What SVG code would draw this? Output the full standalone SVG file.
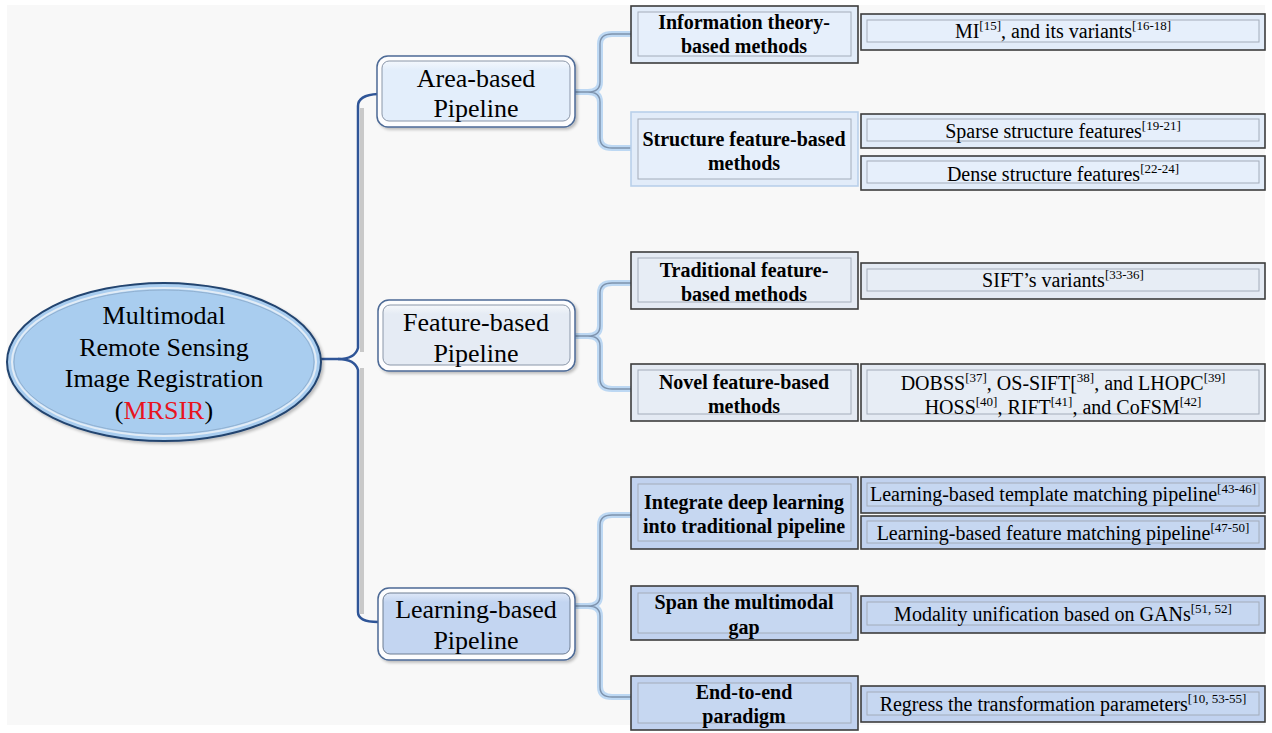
<svg xmlns="http://www.w3.org/2000/svg" width="1272" height="733" viewBox="0 0 1272 733">
<defs>
<linearGradient id="gArea" x1="0" y1="0" x2="0" y2="1"><stop offset="0" stop-color="#f4f8fd"/><stop offset="0.15" stop-color="#e3eefb"/><stop offset="1" stop-color="#e3eefb"/></linearGradient>
<linearGradient id="gFeat" x1="0" y1="0" x2="0" y2="1"><stop offset="0" stop-color="#f6f8fb"/><stop offset="0.15" stop-color="#e5ebf4"/><stop offset="1" stop-color="#e5ebf4"/></linearGradient>
<linearGradient id="gLearn" x1="0" y1="0" x2="0" y2="1"><stop offset="0" stop-color="#dfe8f8"/><stop offset="0.15" stop-color="#c3d5f1"/><stop offset="1" stop-color="#c3d5f1"/></linearGradient>
<filter id="sh" x="-10%" y="-10%" width="130%" height="130%"><feGaussianBlur in="SourceAlpha" stdDeviation="1.5"/><feOffset dx="2" dy="2"/><feComponentTransfer><feFuncA type="linear" slope="0.25"/></feComponentTransfer><feMerge><feMergeNode/><feMergeNode in="SourceGraphic"/></feMerge></filter>
</defs>
<style>
text{font-family:"Liberation Serif","Times New Roman",serif;fill:#000;text-anchor:middle}
.t0{font-size:26px}
.t1{font-size:26px}
.t2{font-size:20px;font-weight:bold}
.t3{font-size:20px}
.sup{font-size:13px}
.red{fill:#e8141e}
.o2{stroke:#3c3c3c;stroke-width:1.6}
.o2l{stroke:#b9d0ea;stroke-width:1.6}
.in{stroke:#a3acba;stroke-width:1}
.a{fill:#e2ecf9}.ai{fill:#e6effb}
.f{fill:#e4eaf3}.fi{fill:#e7edf5}
.l{fill:#c1d2ef}.li{fill:#c6d7f1}
.glow{fill:none;stroke:#a9cdf1;stroke-width:6;stroke-opacity:0.75;stroke-linejoin:round}
.gline{fill:none;stroke:#7e93ad;stroke-width:1.4}
.trunk{fill:none;stroke:#2f5597;stroke-width:2.5}
.trunksh{fill:none;stroke:#c9c9c9;stroke-width:4}
.p1{stroke:#4d6a96;stroke-width:1.5;fill:#fdfdfe}
</style>
<rect x="0" y="0" width="1272" height="733" fill="#ffffff"/>
<rect x="7" y="5" width="1258" height="720" fill="#f8f8f8"/>

<g id="connectors">
<path class="trunksh" d="M362,352 V108 M362,368 V614"/>
<path class="trunk" d="M320,359 H338 Q355,359 358,348 V106 Q358,95 378,94"/>
<path class="trunk" d="M338,359 Q355,359 358,370 V612 Q358,622 378,622"/>
<path class="glow" d="M575,92 H588 Q600,92 600,82 V44 Q600,34 612,34 H631 M588,92 Q600,92 600,102 V138 Q600,148 612,148 H631"/>
<path class="gline" d="M575,92 H588 Q600,92 600,82 V44 Q600,34 612,34 H631 M588,92 Q600,92 600,102 V138 Q600,148 612,148 H631"/>
<path class="glow" d="M575,336 H588 Q600,336 600,326 V293 Q600,283 612,283 H631 M588,336 Q600,336 600,346 V379 Q600,389 612,389 H631"/>
<path class="gline" d="M575,336 H588 Q600,336 600,326 V293 Q600,283 612,283 H631 M588,336 Q600,336 600,346 V379 Q600,389 612,389 H631"/>
<path class="glow" d="M575,606 H588 Q600,606 600,596 V525 Q600,515 612,515 H631 M588,606 Q600,606 600,616 V687 Q600,697 612,697 H631"/>
<path class="gline" d="M575,606 H588 Q600,606 600,596 V525 Q600,515 612,515 H631 M588,606 Q600,606 600,616 V687 Q600,697 612,697 H631"/>
</g>

<g id="root">
<ellipse cx="164" cy="362" rx="157" ry="79" fill="#a9cdef" stroke="#24446f" stroke-width="2" filter="url(#sh)"/>
<ellipse cx="164" cy="362" rx="152" ry="74" fill="none" stroke="#e2ecf6" stroke-width="2"/>
<ellipse cx="164" cy="362" rx="150" ry="72" fill="none" stroke="#8aa8c8" stroke-width="0.8"/>
<text class="t0" x="164" y="324">Multimodal</text>
<text class="t0" x="164" y="356">Remote Sensing</text>
<text class="t0" x="164" y="387">Image Registration</text>
<text class="t0" x="164" y="419">(<tspan class="red">MRSIR</tspan>)</text>
</g>

<g id="area">
<rect class="p1" x="377" y="56" width="198" height="71" rx="11" filter="url(#sh)"/>
<rect x="382" y="61" width="188" height="60" rx="7" fill="url(#gArea)" stroke="#8a96a8" stroke-width="1"/>
<text class="t1" x="476" y="87">Area-based</text>
<text class="t1" x="476" y="117">Pipeline</text>
</g>
<g id="feature">
<rect class="p1" x="378" y="300" width="197" height="71" rx="11" filter="url(#sh)"/>
<rect x="383" y="305" width="187" height="60" rx="7" fill="url(#gFeat)" stroke="#8a96a8" stroke-width="1"/>
<text class="t1" x="476" y="331">Feature-based</text>
<text class="t1" x="476" y="362">Pipeline</text>
</g>
<g id="learning">
<rect class="p1" x="378" y="588" width="197" height="72" rx="11" filter="url(#sh)"/>
<rect x="383" y="593" width="187" height="61" rx="7" fill="url(#gLearn)" stroke="#6d7c92" stroke-width="1"/>
<text class="t1" x="476" y="618">Learning-based</text>
<text class="t1" x="476" y="649">Pipeline</text>
</g>

<g id="info">
<rect class="o2 a" x="631" y="6" width="227" height="57"/>
<rect class="in ai" x="638" y="12" width="213" height="44"/>
<text class="t2" x="744" y="29">Information theory-</text>
<text class="t2" x="744" y="53">based methods</text>
</g>
<g id="structure">
<rect class="o2l a" x="631" y="112" width="227" height="74"/>
<rect class="in ai" x="638" y="119" width="213" height="60"/>
<text class="t2" x="744" y="146">Structure feature-based</text>
<text class="t2" x="744" y="170">methods</text>
</g>
<g id="traditional">
<rect class="o2 f" x="631" y="252" width="227" height="57"/>
<rect class="in fi" x="638" y="258" width="213" height="44"/>
<text class="t2" x="744" y="277">Traditional feature-</text>
<text class="t2" x="744" y="301">based methods</text>
</g>
<g id="novel">
<rect class="o2 f" x="631" y="364" width="227" height="57"/>
<rect class="in fi" x="638" y="370" width="213" height="44"/>
<text class="t2" x="744" y="389">Novel feature-based</text>
<text class="t2" x="744" y="413">methods</text>
</g>
<g id="integrate">
<rect class="o2 l" x="631" y="477" width="227" height="72"/>
<rect class="in li" x="638" y="484" width="213" height="57"/>
<text class="t2" x="744" y="509">Integrate deep learning</text>
<text class="t2" x="744" y="533">into traditional pipeline</text>
</g>
<g id="span">
<rect class="o2 l" x="631" y="586" width="227" height="54"/>
<rect class="in li" x="638" y="593" width="213" height="40"/>
<text class="t2" x="744" y="609">Span the multimodal</text>
<text class="t2" x="744" y="634">gap</text>
</g>
<g id="endtoend">
<rect class="o2 l" x="631" y="676" width="227" height="54"/>
<rect class="in li" x="638" y="683" width="213" height="40"/>
<text class="t2" x="744" y="699">End-to-end</text>
<text class="t2" x="744" y="723">paradigm</text>
</g>

<g id="mi">
<rect class="o2 a" x="861" y="14" width="404" height="36"/>
<rect class="in ai" x="867" y="20" width="392" height="22"/>
<text class="t3" x="1063" y="38">MI<tspan class="sup" dy="-8">[15]</tspan><tspan dy="8">, and its variants</tspan><tspan class="sup" dy="-8">[16-18]</tspan></text>
</g>
<g id="sparse">
<rect class="o2 a" x="861" y="114" width="404" height="34"/>
<rect class="in ai" x="867" y="119" width="392" height="22"/>
<text class="t3" x="1063" y="138">Sparse structure features<tspan class="sup" dy="-8">[19-21]</tspan></text>
</g>
<g id="dense">
<rect class="o2 a" x="861" y="156" width="404" height="34"/>
<rect class="in ai" x="867" y="161" width="392" height="22"/>
<text class="t3" x="1063" y="181">Dense structure features<tspan class="sup" dy="-8">[22-24]</tspan></text>
</g>
<g id="sift">
<rect class="o2 f" x="861" y="263" width="404" height="36"/>
<rect class="in fi" x="867" y="269" width="392" height="22"/>
<text class="t3" x="1063" y="287">SIFT’s variants<tspan class="sup" dy="-8">[33-36]</tspan></text>
</g>
<g id="dobss">
<rect class="o2 f" x="861" y="364" width="404" height="57"/>
<rect class="in fi" x="867" y="370" width="392" height="44"/>
<text class="t3" x="1063" y="390">DOBSS<tspan class="sup" dy="-8">[37]</tspan><tspan dy="8">, OS-SIFT[</tspan><tspan class="sup" dy="-8">38]</tspan><tspan dy="8">, and LHOPC</tspan><tspan class="sup" dy="-8">[39]</tspan></text>
<text class="t3" x="1063" y="414">HOSS<tspan class="sup" dy="-8">[40]</tspan><tspan dy="8">, RIFT</tspan><tspan class="sup" dy="-8">[41]</tspan><tspan dy="8">, and CoFSM</tspan><tspan class="sup" dy="-8">[42]</tspan></text>
</g>
<g id="template">
<rect class="o2 l" x="861" y="477" width="404" height="36"/>
<rect class="in li" x="867" y="483" width="392" height="23"/>
<text class="t3" x="1063" y="501">Learning-based template matching pipeline<tspan class="sup" dy="-8">[43-46]</tspan></text>
</g>
<g id="featmatch">
<rect class="o2 l" x="861" y="516" width="404" height="33"/>
<rect class="in li" x="867" y="521" width="392" height="22"/>
<text class="t3" x="1063" y="540">Learning-based feature matching pipeline<tspan class="sup" dy="-8">[47-50]</tspan></text>
</g>
<g id="modality">
<rect class="o2 l" x="861" y="596" width="404" height="37"/>
<rect class="in li" x="867" y="602" width="392" height="23"/>
<text class="t3" x="1063" y="621">Modality unification based on GANs<tspan class="sup" dy="-8">[51, 52]</tspan></text>
</g>
<g id="regress">
<rect class="o2 l" x="861" y="686" width="404" height="36"/>
<rect class="in li" x="867" y="692" width="392" height="23"/>
<text class="t3" x="1063" y="711">Regress the transformation parameters<tspan class="sup" dy="-8">[10, 53-55]</tspan></text>
</g>
</svg>
